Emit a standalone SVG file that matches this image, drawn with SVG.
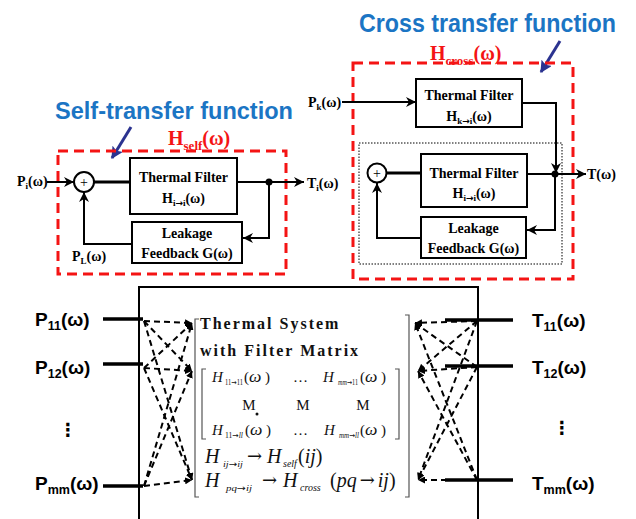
<svg xmlns="http://www.w3.org/2000/svg" width="636" height="519" viewBox="0 0 636 519">
  <style>
    .blk { fill: #fff; stroke: #000; stroke-width: 2; }
    .wire { fill: none; stroke: #000; stroke-width: 2; }
    .thick { fill: none; stroke: #000; stroke-width: 3; }
    .bus { fill: none; stroke: #000; stroke-width: 3.5; }
    .dash { fill: none; stroke: #000; stroke-width: 2; stroke-dasharray: 6 4; }
    .reddash { fill: none; stroke: #f41414; stroke-width: 3; stroke-dasharray: 10 6; }
    .dotted { fill: none; stroke: #000; stroke-width: 1; stroke-dasharray: 1.5 1.5; }
    .brk { fill: none; stroke: #555; stroke-width: 1.2; }
    .lbl { font-family: "Liberation Serif", "Times New Roman", serif; font-weight: bold; font-size: 14px; fill: #000; }
    .ar { font-family: "DejaVu Sans", sans-serif; }
    .title { font-family: "Liberation Sans", Arial, sans-serif; font-weight: bold; fill: #1b75c4; }
    .hred { font-family: "Liberation Serif", "Times New Roman", serif; font-weight: bold; font-size: 20px; fill: #f41414; }
    .port { font-family: "Liberation Sans", Arial, sans-serif; font-weight: bold; font-size: 19px; fill: #000; }
    .mat { font-family: "Liberation Serif", "Times New Roman", serif; font-style: italic; font-size: 15px; fill: #111; }
    .sub { font-size: 7.5px; }
    .big { font-size: 20px; }
    .om { font-size: 17.5px; }
    .arw { font-family: "DejaVu Serif", serif; font-style: normal; font-size: 18px; }
    .up { font-style: normal; }
    .sys { font-family: "Liberation Serif", "Times New Roman", serif; font-weight: bold; font-size: 16px; letter-spacing: 2px; fill: #111; }
  </style>
  <defs>
    <marker id="arr" viewBox="0 0 10 10" refX="10" refY="5" markerWidth="10" markerHeight="10" markerUnits="userSpaceOnUse" orient="auto">
      <path d="M0,0 L10,5 L0,10 L3,5 Z" fill="#000"/>
    </marker>
    <marker id="arrs" viewBox="0 0 10 10" refX="10" refY="5" markerWidth="7" markerHeight="7" markerUnits="userSpaceOnUse" orient="auto">
      <path d="M0,0 L10,5 L0,10 Z" fill="#000"/>
    </marker>
    <marker id="arrb" viewBox="0 0 10 10" refX="9" refY="5" markerWidth="12" markerHeight="12" markerUnits="userSpaceOnUse" orient="auto">
      <path d="M0,0 L10,5 L0,10 L2,5 Z" fill="#2b3390"/>
    </marker>
  </defs>

  <!-- headings and call-out arrows -->
  <g id="self-title">
    <text class="title" x="55" y="119" font-size="24.5" textLength="238" lengthAdjust="spacingAndGlyphs">Self-transfer function</text>
    <line x1="131" y1="127" x2="112" y2="158" stroke="#2b3390" stroke-width="3" marker-end="url(#arrb)"/>
    <text class="hred" x="168" y="145">H<tspan font-size="13" dy="5">self</tspan><tspan dy="-5">(ω)</tspan></text>
  </g>
  <g id="cross-title">
    <text class="title" x="359" y="32" font-size="25" textLength="257" lengthAdjust="spacingAndGlyphs">Cross transfer function</text>
    <line x1="560" y1="41" x2="541" y2="72" stroke="#2b3390" stroke-width="3" marker-end="url(#arrb)"/>
    <text class="hred" x="430" y="60">H<tspan font-size="13" dy="5">cross</tspan><tspan dy="-5">(ω)</tspan></text>
  </g>

  <!-- self-transfer loop -->
  <g id="self-frame">
    <rect class="reddash" x="58" y="151" width="228" height="123"/>
  </g>
  <g id="self-sum">
    <circle cx="84" cy="182" r="10" fill="#fff" stroke="#000" stroke-width="2"/>
    <text x="84" y="187" text-anchor="middle" font-family="Liberation Serif, serif" font-size="14">+</text>
  </g>
  <g id="self-filter">
    <rect class="blk" x="130" y="158" width="107" height="56"/>
    <text class="lbl" x="183.5" y="182" text-anchor="middle">Thermal Filter</text>
    <text class="lbl" x="183.5" y="203" text-anchor="middle">H<tspan font-size="9" dy="3">i<tspan class="ar">→</tspan>i</tspan><tspan dy="-3">(ω)</tspan></text>
  </g>
  <g id="self-leak">
    <rect class="blk" x="132" y="222" width="110" height="41"/>
    <text class="lbl" x="187" y="238" text-anchor="middle">Leakage</text>
    <text class="lbl" x="187" y="258" text-anchor="middle">Feedback G(ω)</text>
  </g>
  <g id="self-labels">
    <text class="lbl" x="17" y="186">P<tspan font-size="9" dy="3">i</tspan><tspan dy="-3">(ω)</tspan></text>
    <text class="lbl" x="307" y="188">T<tspan font-size="9" dy="3">i</tspan><tspan dy="-3">(ω)</tspan></text>
    <text class="lbl" x="72" y="261">P<tspan font-size="9" dy="3">L</tspan><tspan dy="-3">(ω)</tspan></text>
  </g>

  <!-- cross-transfer loop -->
  <g id="cross-frame">
    <rect class="reddash" x="353" y="63" width="220" height="216"/>
    <rect class="dotted" x="359" y="143" width="203" height="121"/>
  </g>
  <g id="cross-filter-k">
    <rect class="blk" x="416" y="79" width="106" height="48"/>
    <text class="lbl" x="469" y="100" text-anchor="middle">Thermal Filter</text>
    <text class="lbl" x="469" y="121" text-anchor="middle">H<tspan font-size="9" dy="3">k<tspan class="ar">→</tspan>i</tspan><tspan dy="-3">(ω)</tspan></text>
  </g>
  <g id="cross-sum">
    <circle cx="377" cy="173" r="9.5" fill="#fff" stroke="#000" stroke-width="2"/>
    <text x="377" y="178" text-anchor="middle" font-family="Liberation Serif, serif" font-size="14">+</text>
  </g>
  <g id="cross-filter-i">
    <rect class="blk" x="421" y="154" width="106" height="53"/>
    <text class="lbl" x="474" y="178" text-anchor="middle">Thermal Filter</text>
    <text class="lbl" x="474" y="198" text-anchor="middle">H<tspan font-size="9" dy="3">i<tspan class="ar">→</tspan>i</tspan><tspan dy="-3">(ω)</tspan></text>
  </g>
  <g id="cross-leak">
    <rect class="blk" x="421" y="217" width="105" height="41"/>
    <text class="lbl" x="473.5" y="233" text-anchor="middle">Leakage</text>
    <text class="lbl" x="473.5" y="253" text-anchor="middle">Feedback G(ω)</text>
  </g>
  <g id="cross-labels">
    <text class="lbl" x="308" y="107">P<tspan font-size="9" dy="3">k</tspan><tspan dy="-3">(ω)</tspan></text>
    <text class="lbl" x="587" y="179">T(ω)</text>
  </g>

  <!-- thermal system with filter matrix -->
  <g id="system">
    <path class="wire" d="M139,521 V287 H478 V521"/>
    <text class="sys" x="200" y="329">Thermal System</text>
    <text class="sys" x="200" y="356">with Filter Matrix</text>
    <path class="brk" d="M199,319 H195 V497 H199"/>
    <path class="brk" d="M405,315 H409 V497 H405"/>
    <path class="brk" d="M206,369 H202 V439 H206"/>
    <path class="brk" d="M395,369 H399 V439 H395"/>
    <!-- matrix entries -->
    <text class="mat" x="212" y="382">H</text>
    <text class="mat up sub" x="225" y="385" textLength="18" lengthAdjust="spacingAndGlyphs">11<tspan class="ar">→</tspan>11</text>
    <text class="mat" x="244" y="382"><tspan class="up">(</tspan><tspan class="om" x="249">ω</tspan><tspan class="up" x="265">)</tspan></text>
    <text class="mat up" x="293" y="382">…</text>
    <text class="mat" x="323" y="382">H</text>
    <text class="mat sub" x="338" y="385" textLength="20" lengthAdjust="spacingAndGlyphs">mm<tspan class="up ar">→</tspan><tspan class="up">11</tspan></text>
    <text class="mat" x="360" y="382"><tspan class="up">(</tspan><tspan class="om" x="365">ω</tspan><tspan class="up" x="381">)</tspan></text>

    <text class="mat up" x="249" y="410" text-anchor="middle">M</text>
    <text class="mat up" x="303" y="410" text-anchor="middle">M</text>
    <text class="mat up" x="363" y="410" text-anchor="middle">M</text>

    <text class="mat" x="212" y="435">H</text>
    <text class="mat sub" x="225" y="438" textLength="18" lengthAdjust="spacingAndGlyphs"><tspan class="up">11</tspan><tspan class="up ar">→</tspan>ll</text>
    <text class="mat" x="245" y="435"><tspan class="up">(</tspan><tspan class="om" x="250">ω</tspan><tspan class="up" x="266">)</tspan></text>
    <circle cx="257" cy="414" r="1.5" fill="#111"/>
    <text class="mat up" x="293" y="435">…</text>
    <text class="mat" x="324" y="435">H</text>
    <text class="mat sub" x="339" y="438" textLength="20" lengthAdjust="spacingAndGlyphs">mm<tspan class="up ar">→</tspan>ll</text>
    <text class="mat" x="360" y="435"><tspan class="up">(</tspan><tspan class="om" x="365">ω</tspan><tspan class="up" x="381">)</tspan></text>

    <text class="mat big" x="205" y="463">H</text>
    <text class="mat" x="223" y="467" style="font-size:9px" textLength="20" lengthAdjust="spacingAndGlyphs">ij<tspan class="up ar">→</tspan>ij</text>
    <text class="mat arw" x="247" y="462">→</text>
    <text class="mat big" x="267" y="463">H</text>
    <text class="mat" x="283" y="467" style="font-size:10px">self</text>
    <text class="mat big" x="298" y="463"><tspan class="up">(</tspan>ij<tspan class="up">)</tspan></text>

    <text class="mat big" x="205" y="487">H</text>
    <text class="mat" x="226" y="491" style="font-size:9px" textLength="26" lengthAdjust="spacingAndGlyphs">pq<tspan class="up ar">→</tspan>ij</text>
    <text class="mat arw" x="262" y="486">→</text>
    <text class="mat big" x="283" y="487">H</text>
    <text class="mat" x="300" y="491" style="font-size:10px">cross</text>
    <text class="mat big" x="330" y="487"><tspan class="up">(</tspan>pq<tspan class="arw" dx="3" dy="-1">→</tspan><tspan dx="3" dy="1">ij</tspan><tspan class="up">)</tspan></text>
  </g>

  <!-- input and output ports -->
  <g id="inputs">
    <text class="port" x="35" y="326">P<tspan font-size="12.5" dy="4">11</tspan><tspan dy="-4">(ω)</tspan></text>
    <text class="port" x="35" y="374">P<tspan font-size="12.5" dy="4">12</tspan><tspan dy="-4">(ω)</tspan></text>
    <text x="68" y="436" text-anchor="middle" font-family="DejaVu Sans, sans-serif" font-weight="bold" font-size="18">⋮</text>
    <text class="port" x="35" y="490">P<tspan font-size="12.5" dy="4">mm</tspan><tspan dy="-4">(ω)</tspan></text>
  </g>
  <g id="outputs">
    <text class="port" x="532" y="327">T<tspan font-size="12.5" dy="4">11</tspan><tspan dy="-4">(ω)</tspan></text>
    <text class="port" x="532" y="374">T<tspan font-size="12.5" dy="4">12</tspan><tspan dy="-4">(ω)</tspan></text>
    <text x="562" y="434" text-anchor="middle" font-family="DejaVu Sans, sans-serif" font-weight="bold" font-size="18">⋮</text>
    <text class="port" x="532" y="490">T<tspan font-size="12.5" dy="4">mm</tspan><tspan dy="-4">(ω)</tspan></text>
  </g>

  <!-- connectors -->
  <g id="connectors">
    <!-- self loop -->
    <line class="wire" x1="47" y1="182" x2="74" y2="182" marker-end="url(#arr)"/>
    <line class="thick" x1="94" y1="182" x2="130" y2="182"/>
    <line class="wire" x1="237" y1="182" x2="304" y2="182" marker-end="url(#arr)"/>
    <circle cx="269" cy="182" r="3.5" fill="#000"/>
    <polyline class="wire" points="269,182 269,238 243,238" marker-end="url(#arr)"/>
    <polyline class="wire" points="132,244 84,244 84,192" marker-end="url(#arr)"/>
    <!-- cross loop -->
    <line class="wire" x1="342" y1="102" x2="416" y2="102" marker-end="url(#arr)"/>
    <polyline class="wire" points="522,103 556,103 556,173" marker-end="url(#arr)"/>
    <line class="thick" x1="387" y1="173" x2="421" y2="173"/>
    <line class="wire" x1="527" y1="174" x2="586" y2="174" marker-end="url(#arr)"/>
    <circle cx="555" cy="174" r="3.5" fill="#000"/>
    <polyline class="wire" points="555,174 555,230 527,230" marker-end="url(#arr)"/>
    <polyline class="wire" points="421,238 377,238 377,183" marker-end="url(#arr)"/>
    <!-- port buses -->
    <line class="bus" x1="103" y1="319" x2="143" y2="319"/>
    <line class="bus" x1="103" y1="364" x2="143" y2="364"/>
    <line class="bus" x1="103" y1="486" x2="143" y2="486"/>
    <line class="bus" x1="445" y1="320" x2="513" y2="320"/>
    <line class="bus" x1="445" y1="366" x2="513" y2="366"/>
    <line class="bus" x1="445" y1="480" x2="513" y2="480"/>
    <!-- input fan-in -->
    <line class="dash" x1="144" y1="321" x2="192" y2="323" marker-end="url(#arrs)"/>
    <line class="dash" x1="144" y1="321" x2="192" y2="371" marker-end="url(#arrs)"/>
    <line class="dash" x1="144" y1="321" x2="192" y2="480" marker-end="url(#arrs)"/>
    <line class="dash" x1="144" y1="368" x2="192" y2="323" marker-end="url(#arrs)"/>
    <line class="dash" x1="144" y1="368" x2="192" y2="371" marker-end="url(#arrs)"/>
    <line class="dash" x1="144" y1="368" x2="192" y2="480" marker-end="url(#arrs)"/>
    <line class="dash" x1="144" y1="486" x2="192" y2="323" marker-end="url(#arrs)"/>
    <line class="dash" x1="144" y1="486" x2="192" y2="371" marker-end="url(#arrs)"/>
    <line class="dash" x1="144" y1="486" x2="192" y2="480" marker-end="url(#arrs)"/>
    <!-- output fan-out -->
    <line class="dash" x1="477" y1="321" x2="415" y2="323" marker-end="url(#arrs)"/>
    <line class="dash" x1="477" y1="321" x2="418" y2="371" marker-end="url(#arrs)"/>
    <line class="dash" x1="477" y1="321" x2="418" y2="480" marker-end="url(#arrs)"/>
    <line class="dash" x1="477" y1="367" x2="415" y2="323" marker-end="url(#arrs)"/>
    <line class="dash" x1="477" y1="367" x2="418" y2="371" marker-end="url(#arrs)"/>
    <line class="dash" x1="477" y1="367" x2="418" y2="480" marker-end="url(#arrs)"/>
    <line class="dash" x1="477" y1="480" x2="415" y2="323" marker-end="url(#arrs)"/>
    <line class="dash" x1="477" y1="480" x2="418" y2="371" marker-end="url(#arrs)"/>
    <line class="dash" x1="477" y1="480" x2="418" y2="480" marker-end="url(#arrs)"/>
  </g>
</svg>
